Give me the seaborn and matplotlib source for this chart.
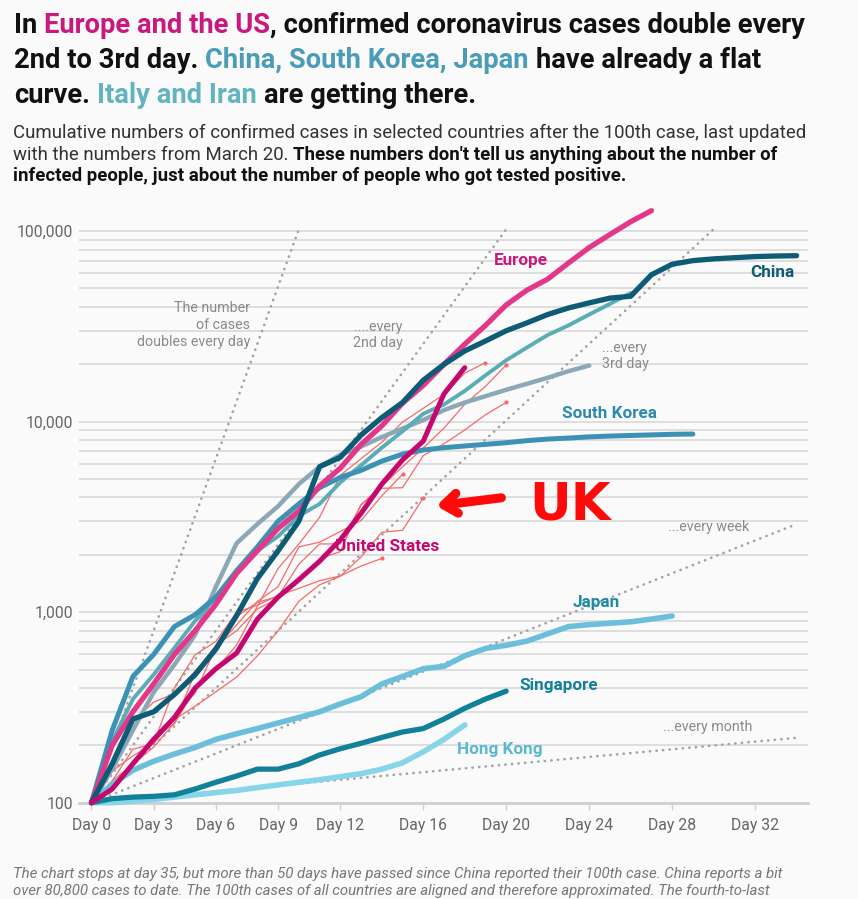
import matplotlib
matplotlib.use("Agg")
import matplotlib.pyplot as plt
import matplotlib.ticker as mticker
import seaborn as sns

# cumulative confirmed cases, day 0 = day of the 100th case
europe = [100, 200, 300, 420, 600, 800, 1100, 1600, 2100, 2750, 3400, 4600, 5700, 7600,
          9500, 12500, 15500, 20000, 25500, 32000, 41000, 49000, 56000, 68000, 82000,
          96000, 112000, 128000]
us = [100, 118, 160, 215, 280, 400, 505, 610, 920, 1200, 1480, 1850, 2400, 3300, 4700,
      6300, 7900, 14000, 19200]
china = [100, 160, 275, 300, 370, 470, 640, 960, 1500, 2100, 3000, 5800, 6500, 8500,
         10500, 12600, 16500, 20000, 23500, 26500, 30000, 33000, 36500, 39500, 42000,
         44500, 45500, 59000, 67000, 70000, 71500, 72500, 73500, 74000, 74300]
south_korea = [100, 240, 460, 600, 840, 970, 1200, 1650, 2200, 3000, 3700, 4500, 5100,
               5550, 6200, 6750, 7100, 7300, 7450, 7600, 7750, 7950, 8100, 8200, 8320,
               8400, 8460, 8520, 8580, 8610]
italy = [100, 210, 350, 470, 650, 900, 1200, 1600, 2100, 2500, 3200, 3700, 4800, 5900,
         7300, 8900, 11000, 12300, 14500, 17500, 21000, 24500, 28500, 32000, 36500,
         41500, 47300]
iran = [100, 150, 240, 380, 530, 760, 1360, 2300, 2900, 3600, 4700, 5800, 6700, 7400,
        8300, 9200, 10200, 11500, 12600, 13600, 14700, 15800, 17000, 18400, 19700]
japan = [100, 125, 148, 165, 180, 195, 215, 230, 245, 262, 280, 300, 330, 360, 420, 460,
         505, 520, 590, 645, 670, 705, 770, 840, 860, 875, 890, 920, 955]
singapore = [100, 105, 107, 108, 110, 118, 128, 138, 150, 150, 160, 178, 192, 205, 220,
             235, 245, 275, 313, 350, 385]
hong_kong = [100, 100, 102, 104, 107, 110, 113, 116, 120, 124, 128, 132, 137, 142, 150,
             162, 185, 215, 256]

# other european countries (thin red lines)
spain = [100, 120, 165, 222, 259, 400, 500, 673, 1073, 1695, 2277, 3146, 5232, 6391,
         7798, 9942, 11748, 13910, 17963, 20410]
germany = [100, 130, 159, 196, 262, 482, 670, 799, 1040, 1176, 1457, 1908, 2078, 3675,
           4585, 5795, 7272, 9257, 12327, 15320, 19848]
france = [100, 130, 191, 204, 285, 377, 653, 949, 1126, 1209, 1784, 2281, 2281, 3661,
          4469, 4499, 6633, 7652, 9043, 10871, 12612]
switzerland = [100, 214, 268, 337, 374, 491, 652, 858, 1139, 1359, 2200, 2330, 2650,
               3028, 4075, 5294]
uk = [100, 115, 163, 206, 273, 321, 382, 456, 590, 798, 1140, 1391, 1543, 1950, 2626,
      2689, 3983]
norway = [100, 147, 176, 205, 400, 598, 702, 996, 1090, 1221, 1333, 1463, 1550, 1746,
          1914]

# reference lines "doubles every ..." : end day and end value, all start at (0, 100)
ref_end_day = [10, 20, 30, 34, 34]
ref_end_val = [102400, 102400, 102400, 2900, 219]

day_ticks = [0, 3, 6, 9, 12, 16, 20, 24, 28, 32]
y_ticks = [100, 1000, 10000, 100000]

BG = "#fafafa"
GRAY_TXT = "#8a8a8a"

sns.set_theme(style="white")
plt.rcParams["font.family"] = ["Roboto", "DejaVu Sans"]

fig = plt.figure(figsize=(8.58, 8.99), dpi=100, facecolor=BG)
ax = fig.add_axes([79 / 858, 96.3 / 899, 729 / 858, 609.7 / 899])
ax.set_facecolor(BG)
ax.set_yscale("log")

# reference doubling lines
for d, v in zip(ref_end_day, ref_end_val):
    sns.lineplot(x=[0, d], y=[100, v], ax=ax, color="#a3a3a3", linewidth=1.9,
                 linestyle=(0, (0.1, 2.4)), dash_capstyle="round", zorder=2)

# thin lines for single european countries
for vals in [norway, uk, switzerland, france, germany, spain]:
    sns.lineplot(x=list(range(len(vals))), y=vals, ax=ax, color="#f36b6b", linewidth=0.9,
                 marker="o", markersize=3, markeredgewidth=0, markevery=[len(vals) - 1],
                 zorder=3, clip_on=False)

# values, color, width
main = [
    (hong_kong, "#86d5e8", 4.0),
    (japan, "#6cbfdb", 4.0),
    (singapore, "#13809a", 3.8),
    (iran, "#8ca8b7", 3.2),
    (italy, "#5aacb5", 2.8),
    (south_korea, "#3c92b4", 3.6),
    (europe, "#e2388a", 3.8),
    (china, "#0e5b76", 3.8),
    (us, "#c5086f", 3.6),
]
for i, (vals, col, lw) in enumerate(main):
    sns.lineplot(x=list(range(len(vals))), y=vals, ax=ax, color=col, linewidth=lw,
                 solid_capstyle="round", zorder=4 + i, clip_on=False)

ax.set_xlim(-0.6, 34.55)
ax.set_ylim(100, 10 ** 5.2)
ax.set_xticks(day_ticks)
ax.set_xticklabels([f"Day {d}" for d in day_ticks])
ax.set_yticks(y_ticks)
ax.yaxis.set_major_formatter(mticker.FuncFormatter(lambda v, p: f"{v:,.0f}"))
ax.yaxis.set_minor_locator(mticker.LogLocator(base=10, subs=range(2, 10)))
ax.yaxis.set_minor_formatter(mticker.NullFormatter())
ax.grid(False)
ax.yaxis.grid(True, which="both", color="#dcdcdc", linewidth=1.3, zorder=0)
ax.set_axisbelow(True)
for s in ["top", "right", "left"]:
    ax.spines[s].set_visible(False)
ax.spines["bottom"].set_color("#d0d0d0")
ax.spines["bottom"].set_linewidth(2)
ax.tick_params(axis="x", length=5, width=1, color="#d0d0d0", pad=6,
               labelsize=11.3, labelcolor="#666666", bottom=True)
ax.tick_params(axis="y", which="both", length=0, pad=4, labelsize=11.3,
               labelcolor="#666666")
ax.set_xlabel("")
ax.set_ylabel("")

# country labels
lab = dict(fontsize=12.3, fontweight="bold", va="center")
ax.text(19.4, 69800, "Europe", color="#c51a7e", ha="left", **lab)
ax.text(33.9, 60300, "China", color="#0e5b76", ha="right", **lab)
ax.text(25.0, 11100, "South Korea", color="#2e8aae", ha="center", **lab)
ax.text(14.27, 2200, "United States", color="#c5086f", ha="center", **lab)
ax.text(24.36, 1130, "Japan", color="#1f8aa5", ha="center", **lab)
ax.text(20.65, 410, "Singapore", color="#13809a", ha="left", **lab)
ax.text(17.65, 191, "Hong Kong", color="#5ab8d0", ha="left", **lab)

# reference line notes
note = dict(fontsize=10.3, color=GRAY_TXT, va="center", linespacing=1.25)
ax.text(7.64, 32100, "The number\nof cases\ndoubles every day", ha="right",
        multialignment="right", **note)
ax.text(15.0, 28500, "....every\n2nd day", ha="right", multialignment="right", **note)
ax.text(24.6, 22100, "...every\n3rd day", ha="left", **note)
ax.text(27.8, 2800, "...every week", ha="left", **note)
ax.text(27.55, 250, "...every month", ha="left", **note)

# hand drawn UK marker
ax.annotate("", xy=(16.5, 3600), xytext=(19.9, 4000),
            arrowprops=dict(arrowstyle="->,head_length=0.8,head_width=0.6",
                            color="#ff0a0a", lw=6.5, capstyle="round", joinstyle="round"),
            zorder=20)
ax.text(23.1, 3650, "UK", color="#ff0a0a", fontsize=37, fontweight="bold",
        family="DejaVu Sans", ha="center", va="center", zorder=20)

# title and subtitle with coloured parts
W, H = fig.get_size_inches() * fig.dpi
renderer = fig.canvas.get_renderer()


def text_w(s, size, weight, style="normal"):
    t = fig.text(0, 0, s, fontsize=size, fontweight=weight, fontstyle=style)
    w = t.get_window_extent(renderer).width
    t.remove()
    return w


def rich_line(x_px, y_px, parts, size):
    sp = {}
    for s, col, weight in parts:
        if weight not in sp:
            sp[weight] = text_w("a a", size, weight) - text_w("aa", size, weight)
        lead = len(s) - len(s.lstrip(" "))
        trail = len(s) - len(s.rstrip(" "))
        core = s.strip(" ")
        x_px += lead * sp[weight]
        fig.text(x_px / W, 1 - y_px / H, core, fontsize=size, fontweight=weight,
                 color=col, ha="left", va="baseline")
        x_px += text_w(core, size, weight) + trail * sp[weight]


BLACK = "#111111"
MAG = "#c8197f"
BLUE = "#4c9cb8"
TEAL = "#62b4bf"
TS = 19.7
rich_line(14, 33, [("In ", BLACK, "bold"), ("Europe and the US", MAG, "bold"),
                   (", confirmed coronavirus cases double every", BLACK, "bold")], TS)
rich_line(14, 68, [("2nd to 3rd day. ", BLACK, "bold"),
                   ("China, South Korea, Japan", BLUE, "bold"),
                   (" have already a flat", BLACK, "bold")], TS)
rich_line(14, 103, [("curve. ", BLACK, "bold"), ("Italy and Iran", TEAL, "bold"),
                    (" are getting there.", BLACK, "bold")], TS)

SS = 13.4
SUB = "#333333"
rich_line(13, 138, [("Cumulative numbers of confirmed cases in selected countries after "
                     "the 100th case, last updated", SUB, "normal")], SS)
rich_line(13, 160, [("with the numbers from March 20. ", SUB, "normal"),
                    ("These numbers don't tell us anything about the number of", BLACK,
                     "bold")], SS)
rich_line(13, 181, [("infected people, just about the number of people who got tested "
                     "positive.", BLACK, "bold")], SS)

foot = dict(fontsize=10.85, fontstyle="italic", color="#777777", ha="left", va="baseline")
fig.text(13 / W, 1 - 878 / H, "The chart stops at day 35, but more than 50 days have passed "
         "since China reported their 100th case. China reports a bit", **foot)
fig.text(13 / W, 1 - 895 / H, "over 80,800 cases to date. The 100th cases of all countries "
         "are aligned and therefore approximated. The fourth-to-last", **foot)

fig.savefig("out.png", dpi=100, facecolor=BG)
